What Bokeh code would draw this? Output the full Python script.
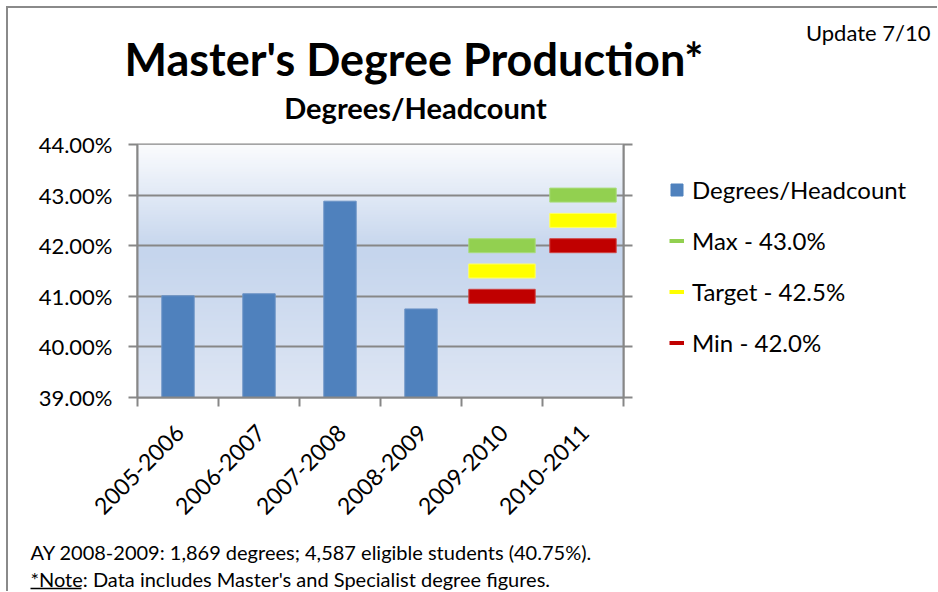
import numpy as np
from bokeh.plotting import figure
from bokeh.layouts import column, row
from bokeh.models import (FixedTicker, PrintfTickFormatter, LinearAxis, Label,
                          Legend, LegendItem, Range1d)
from bokeh.embed import file_html
from bokeh.resources import INLINE

# ---- data ----
categories = ["2005-2006", "2006-2007", "2007-2008", "2008-2009", "2009-2010", "2010-2011"]
ratio_years = ["2005-2006", "2006-2007", "2007-2008", "2008-2009"]
ratio_values = [41.01, 41.05, 42.88, 40.75]
goal_years = ["2009-2010", "2010-2011"]
max_values = [42.0, 43.0]
target_values = [41.5, 42.5]
min_values = [41.0, 42.0]
y_ticks = [39, 40, 41, 42, 43, 44]
legend_labels = ["Degrees/Headcount", "Max - 43.0%", "Target - 42.5%", "Min - 42.0%"]
title_text = "Master's Degree Production*"
subtitle_text = "Degrees/Headcount"
update_text = "Update 7/10"
note_1 = "AY 2008-2009: 1,869 degrees; 4,587 eligible students (40.75%)."
note_2_head = "*Note"
note_2_rest = ": Data includes Master's and Specialist degree figures."

FONT = "Lato"
GRID = "#878787"
BLUE, GREEN, YELLOW, RED = "#4f81bd", "#92d050", "#ffff00", "#c00000"

TOTAL_W = 929
TOP_H = 122
FRAME_L, FRAME_W, FRAME_R = 129, 486, 16
FRAME_T, FRAME_H, BOTTOM_AX = 14, 253, 140
MAIN_W = FRAME_L + FRAME_W + FRAME_R
MID_H = FRAME_T + FRAME_H + BOTTOM_AX
BOT_H = 54


def blank(w, h):
    f = figure(width=w, height=h, output_backend="svg", toolbar_location=None,
               x_range=Range1d(0, w), y_range=Range1d(0, h), x_axis_type=None,
               y_axis_type=None, min_border=0, title=None)
    f.outline_line_color = None
    f.background_fill_color = "white"
    f.border_fill_color = "white"
    f.grid.visible = False
    return f


def text(f, s, x, y_from_top, size, bold=False, align="left"):
    f.add_layout(Label(x=x, y=f.height - y_from_top, text=s, text_font=FONT,
                       text_font_size=size, text_align=align, text_baseline="middle",
                       text_font_style="bold" if bold else "normal", text_color="black"))


# ---- top: titles ----
top = blank(TOTAL_W, TOP_H)
text(top, title_text, 405.5, 50, "45px", bold=True, align="center")
text(top, subtitle_text, 407, 99, "29px", bold=True, align="center")
text(top, update_text, 922, 24, "22px", align="right")

# ---- main chart ----
pos = {c: i + 0.5 for i, c in enumerate(categories)}
p = figure(frame_width=FRAME_W, frame_height=FRAME_H, output_backend="svg",
           toolbar_location=None, title=None,
           x_range=Range1d(0, len(categories)), y_range=Range1d(39, 44),
           min_border_left=FRAME_L, min_border_right=FRAME_R, min_border_top=FRAME_T,
           min_border_bottom=BOTTOM_AX)
p.background_fill_color = None
p.border_fill_color = "white"
p.outline_line_color = GRID
p.outline_line_width = 2

# gradient background (style only)
n = 200
t = np.linspace(0, 1, n)  # 0 = top, 1 = bottom
stops_t = [0.0, 0.42, 1.0]
stops_c = np.array([[251, 252, 254], [197, 213, 237], [222, 230, 244]], dtype=float)
cols = np.stack([np.interp(t, stops_t, stops_c[:, k]) for k in range(3)], axis=1)
img = np.zeros((n, 1), dtype=np.uint32)
view = img.view(dtype=np.uint8).reshape((n, 1, 4))
for i in range(n):
    r, g, b = cols[n - 1 - i]
    view[i, 0, 0] = int(r); view[i, 0, 1] = int(g); view[i, 0, 2] = int(b); view[i, 0, 3] = 255
p.image_rgba(image=[img], x=0, y=39, dw=len(categories), dh=5, level="image")

p.ygrid.grid_line_color = GRID
p.ygrid.grid_line_width = 2
p.xgrid.visible = False

p.vbar(x=[pos[c] for c in ratio_years], top=ratio_values, bottom=39, width=0.4,
       fill_color=BLUE, line_color="#6b93c6", line_width=1)
gx = [pos[c] for c in goal_years]
for vals, col, edge in [(max_values, GREEN, "#a9dc7c"), (target_values, YELLOW, "#ffff66"),
                        (min_values, RED, "#cf4444")]:
    p.rect(x=gx, y=vals, width=0.82, height=14, height_units="screen",
           fill_color=col, line_color=edge, line_width=1)

yax = p.yaxis[0]
yax.ticker = FixedTicker(ticks=y_ticks)
yax.formatter = PrintfTickFormatter(format="%.2f%%")
yax.axis_line_color = GRID
yax.axis_line_width = 2
yax.major_tick_line_color = GRID
yax.major_tick_line_width = 2
yax.major_tick_out = 9
yax.major_tick_in = 0
yax.minor_tick_line_color = None
yax.major_label_standoff = 16
yax.major_label_text_font = FONT
yax.major_label_text_font_size = "22px"
yax.major_label_text_color = "black"

rax = LinearAxis(ticker=FixedTicker(ticks=y_ticks), axis_line_color=GRID, axis_line_width=2,
                 major_tick_line_color=GRID, major_tick_line_width=2, major_tick_out=9,
                 major_tick_in=0, minor_tick_line_color=None,
                 major_label_overrides={v: "" for v in y_ticks}, major_label_standoff=0)
p.add_layout(rax, "right")

shift = 0.02  # label anchor nudge (style)
xax = p.xaxis[0]
xax.ticker = FixedTicker(ticks=[pos[c] + shift for c in categories],
                         minor_ticks=list(range(len(categories) + 1)))
xax.major_label_overrides = {pos[c] + shift: c for c in categories}
xax.major_label_orientation = np.pi / 4
xax.major_tick_line_color = None
xax.major_tick_out = 0
xax.major_tick_in = 0
xax.minor_tick_line_color = GRID
xax.minor_tick_line_width = 2
xax.minor_tick_out = 9
xax.minor_tick_in = 0
xax.axis_line_color = GRID
xax.axis_line_width = 2
xax.major_label_standoff = 22
xax.major_label_text_font = FONT
xax.major_label_text_font_size = "23px"
xax.major_label_text_color = "black"

# ---- legend panel (frame aligned with the chart frame) ----
LEG_W = TOTAL_W - MAIN_W
lg = blank(LEG_W, MID_H)
proxy_bar = lg.vbar(x=[np.nan], top=[np.nan], width=1, fill_color=BLUE, line_color=BLUE)
proxies = [proxy_bar] + [lg.line(x=[np.nan], y=[np.nan], line_color=c, line_width=4)
                         for c in (GREEN, YELLOW, RED)]
legend = Legend(items=[LegendItem(label=l, renderers=[r]) for l, r in zip(legend_labels, proxies)],
                location=(30, 40), padding=0, margin=0, spacing=22,
                label_height=29, glyph_height=15, glyph_width=15, label_standoff=8,
                label_text_font=FONT, label_text_font_size="24px", label_text_color="black",
                border_line_color=None, background_fill_alpha=0)
lg.add_layout(legend)

# ---- bottom notes ----
bot = blank(TOTAL_W, BOT_H)
text(bot, note_1, 22, 14, "20px")
text(bot, note_2_head + note_2_rest, 22, 41, "20px")
bot.segment(x0=[22], y0=[BOT_H - 51], x1=[73], y1=[BOT_H - 51], line_color="black", line_width=1.5)

layout = column(top, row(p, lg), bot)
layout.styles = {"margin-left": "6px", "margin-top": "6px",
                 "border-left": "2px solid #8a8a8a", "border-top": "2px solid #8a8a8a"}

open("out.html", "w").write(file_html(layout, INLINE))
